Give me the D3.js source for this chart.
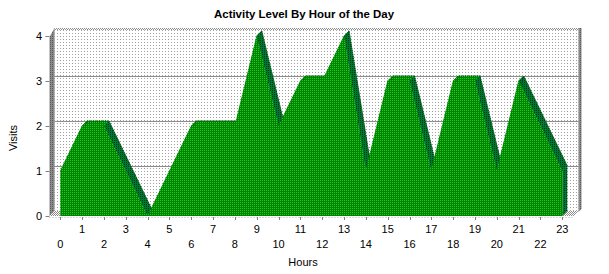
<!DOCTYPE html>
<html>
<head>
<meta charset="utf-8">
<script src="https://cdn.jsdelivr.net/npm/d3@7/dist/d3.min.js"></script>
<style>
  html, body { margin: 0; padding: 0; background: #ffffff; }
  svg { display: block; }
  text { font-family: "Liberation Sans", Arial, sans-serif; fill: #000; }
</style>
</head>
<body>
<svg id="chart" width="609" height="274"></svg>
<script>
// Hourly visits
const hours = d3.range(0, 24);
const visits = [1, 2, 2, 1, 0, 1, 2, 2, 2, 4, 2, 3, 3, 4, 1, 3, 3, 1, 3, 3, 1, 3, 2, 1];
const yTicks = [0, 1, 2, 3, 4];
const title = "Activity Level By Hour of the Day";
const xTitle = "Hours";
const yTitle = "Visits";

const svg = d3.select("#chart");
const defs = svg.append("defs");

// Dithered fills
function pattern(id, w, h, base, dots) {
  const p = defs.append("pattern").attr("id", id)
    .attr("patternUnits", "userSpaceOnUse").attr("width", w).attr("height", h);
  p.append("rect").attr("width", w).attr("height", h).attr("fill", base);
  dots.forEach(([x, y, c]) => p.append("rect").attr("x", x).attr("y", y)
    .attr("width", 1).attr("height", 1).attr("fill", c));
}
pattern("wall", 3, 3, "#ffffff", [[0, 0, "#a0a0a0"]]);
pattern("greenFront", 2, 2, "#008200", [[0, 0, "#18d018"]]);
pattern("greenSide", 2, 2, "#007830", [[0, 0, "#003a14"]]);
pattern("greySide", 2, 2, "#8a8a8a", [[0, 0, "#5a5a5a"]]);
pattern("hatch", 2, 2, "#ffffff", [[0, 0, "#8c8c8c"], [1, 1, "#8c8c8c"]]);

// Scales (front plane) and depth offset for the 3D look
const x = d3.scaleLinear().domain([0, 23]).range([60.3, 562.3]);
const y = d3.scaleLinear().domain([0, 4]).range([216, 36]);
const dx = 5, dy = -5;
const left = 49.5, right = 573.5;

// Back wall
svg.append("rect")
  .attr("x", left + dx).attr("y", y(4) + dy - 2)
  .attr("width", right - left).attr("height", y(0) - y(4) + 2)
  .attr("fill", "url(#wall)");

// Top edge of the wall
svg.append("rect")
  .attr("x", left + dx).attr("y", y(4) + dy - 3)
  .attr("width", right - left).attr("height", 2)
  .attr("fill", "url(#hatch)");

// Grid lines on the back wall
svg.append("g").selectAll("line").data(yTicks.filter(t => t > 0 && t < 4)).join("line")
  .attr("x1", left + dx).attr("x2", right + dx)
  .attr("y1", d => Math.round(y(d) + dy) + 0.5).attr("y2", d => Math.round(y(d) + dy) + 0.5)
  .attr("stroke", "#8c8c8c").attr("stroke-width", 1);

// Floor
svg.append("path")
  .attr("d", `M${left},${y(0)} L${right},${y(0)} L${right + dx},${y(0) + dy} L${left + dx},${y(0) + dy} Z`)
  .attr("fill", "url(#hatch)");

// Left wall
svg.append("path")
  .attr("d", `M${left},${y(4) + 1} L${left + dx},${y(4) + dy - 3} L${left + dx},${y(0) + dy} L${left},${y(0)} Z`)
  .attr("fill", "url(#greySide)");

// Right wall edge
svg.append("path")
  .attr("d", `M${right + dx},${y(4) + dy - 3} L${right + dx + 3},${y(4) + dy - 3} L${right + dx + 3},${y(0) + dy - 2} L${right + dx},${y(0) + dy + 1} Z`)
  .attr("fill", "url(#greySide)");

// Area: side faces between front edge and back edge
const pts = hours.map((h, i) => [x(h), y(visits[i])]);
const faces = d3.pairs(pts).map(([a, b]) => ({ a, b, down: b[1] > a[1] }));
svg.append("g").selectAll("path").data(faces).join("path")
  .attr("d", f => `M${f.a[0]},${f.a[1]} L${f.b[0]},${f.b[1]} L${f.b[0] + dx},${f.b[1] + dy} L${f.a[0] + dx},${f.a[1] + dy} Z`)
  .attr("fill", f => f.down ? "url(#greenSide)" : "url(#greenFront)")
  .attr("stroke", f => f.down ? "url(#greenSide)" : "url(#greenFront)")
  .attr("stroke-width", 0.6);

// Back outline of the ribbon
svg.append("path")
  .attr("d", d3.line().x(d => d[0] + dx).y(d => d[1] + dy)(pts))
  .attr("fill", "none").attr("stroke", "#00501a").attr("stroke-width", 1)
  .attr("stroke-dasharray", "1,1");

// Right end face
const last = pts[pts.length - 1];
svg.append("path")
  .attr("d", `M${last[0]},${y(0)} L${last[0]},${last[1]} L${last[0] + dx},${last[1] + dy} L${last[0] + dx},${y(0) + dy} Z`)
  .attr("fill", "url(#greenSide)");

// Front face of the area
const area = d3.area()
  .x((d, i) => x(hours[i]))
  .y0(y(0))
  .y1(d => y(d));
svg.append("path")
  .attr("d", area(visits))
  .attr("fill", "url(#greenFront)");

// Y axis
const yAxis = svg.append("g");
yAxis.selectAll("line").data(yTicks).join("line")
  .attr("x1", left - 4).attr("x2", left)
  .attr("y1", d => Math.round(y(d)) + 0.5).attr("y2", d => Math.round(y(d)) + 0.5)
  .attr("stroke", "#808080");
yAxis.selectAll("text").data(yTicks).join("text")
  .attr("x", 42).attr("y", d => y(d) + 4)
  .attr("text-anchor", "end").attr("font-size", 11)
  .text(d => d);

// X axis
const xAxis = svg.append("g");
xAxis.append("line")
  .attr("x1", left).attr("x2", right).attr("y1", y(0) + 1.5).attr("y2", y(0) + 1.5)
  .attr("stroke", "#b0b0b0").attr("stroke-dasharray", "1,2");
xAxis.selectAll("line.tick").data(hours).join("line").attr("class", "tick")
  .attr("x1", d => Math.round(x(d)) + 0.5).attr("x2", d => Math.round(x(d)) + 0.5)
  .attr("y1", y(0) + 1).attr("y2", y(0) + 4)
  .attr("stroke", "#808080");
xAxis.selectAll("text").data(hours).join("text")
  .attr("x", d => x(d))
  .attr("y", d => d % 2 ? 233 : 248)
  .attr("text-anchor", "middle").attr("font-size", 11)
  .text(d => d);

// Titles
svg.append("text")
  .attr("x", 214).attr("y", 18)
  .attr("font-size", 11.5).attr("font-weight", "bold")
  .attr("textLength", 180).attr("lengthAdjust", "spacingAndGlyphs")
  .text(title);
svg.append("text")
  .attr("x", 303).attr("y", 266)
  .attr("text-anchor", "middle").attr("font-size", 11)
  .text(xTitle);
svg.append("text")
  .attr("transform", "translate(17,138) rotate(-90)")
  .attr("text-anchor", "middle").attr("font-size", 11)
  .text(yTitle);
</script>
</body>
</html>
